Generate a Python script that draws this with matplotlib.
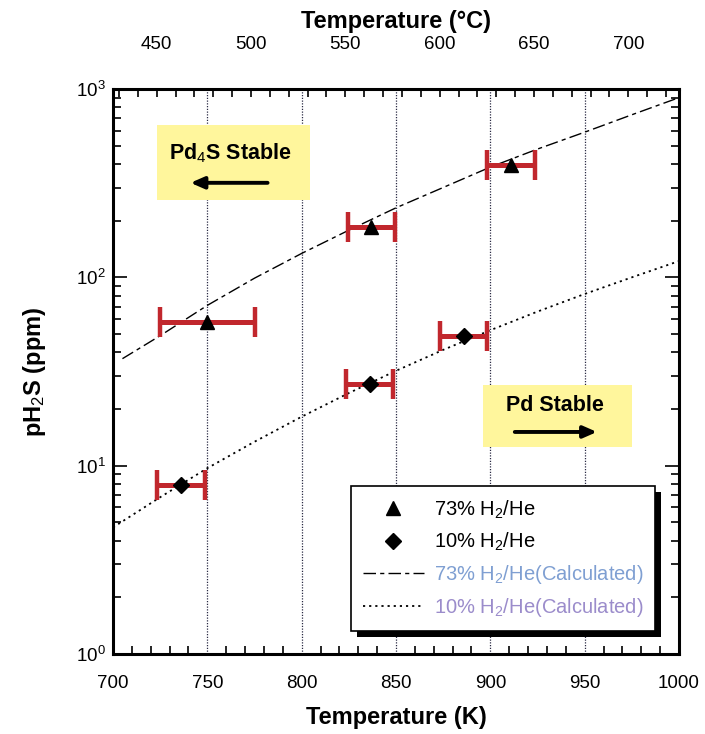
import matplotlib
matplotlib.use("Agg")
import matplotlib.pyplot as plt
import matplotlib.ticker as ticker
from matplotlib.patches import Rectangle

plt.rcParams['font.family'] = ['Liberation Sans', 'DejaVu Sans']
plt.rcParams['mathtext.fontset'] = 'custom'
plt.rcParams['mathtext.rm'] = 'Liberation Sans'
plt.rcParams['mathtext.it'] = 'Liberation Sans:italic'
plt.rcParams['mathtext.bf'] = 'Liberation Sans:bold'

# === measured points ===
t73 = [750, 837, 911]
p73 = [58, 184, 395]
t73_err = [25, 12.5, 12.5]

t10 = [736, 836, 886]
p10 = [7.9, 27, 49]
t10_err = [12.5, 12.5, 12.5]

# === calculated curves ===
tcalc73 = [705, 725, 750, 775, 800, 825, 850, 875, 900, 925, 950, 975, 1000]
pcalc73 = [37, 49, 71, 99, 134, 178, 234, 300, 385, 480, 590, 730, 900]
tcalc10 = [700, 725, 750, 775, 800, 825, 850, 875, 900, 925, 950, 975, 1000]
pcalc10 = [4.7, 6.8, 9.7, 13.4, 18.2, 24.3, 31.9, 41.2, 52.4, 65.8, 81.6, 100, 122]

grid_k = [750, 800, 850, 900, 950]
celsius_ticks = [450, 500, 550, 600, 650, 700]

fig = plt.figure(figsize=(7.05, 7.34), dpi=100)
ax = fig.add_axes([0.1603, 0.109, 0.8028, 0.7697])

for g in grid_k:
    ax.axvline(g, color='#2a2a44', linestyle=(0, (1, 1.2)), linewidth=0.9, zorder=1)

line73, = ax.plot(tcalc73, pcalc73, color='black', linewidth=1.0,
                  dashes=(9, 3, 3, 3), zorder=2)
line10, = ax.plot(tcalc10, pcalc10, color='black', linewidth=1.3,
                  dashes=(1.2, 2.2), zorder=2)

red = '#c1272d'
ax.errorbar(t73, p73, xerr=t73_err, fmt='none', ecolor=red, elinewidth=3.6,
            capsize=10.5, capthick=3.2, zorder=3)
ax.errorbar(t10, p10, xerr=t10_err, fmt='none', ecolor=red, elinewidth=3.6,
            capsize=10.5, capthick=3.2, zorder=3)
tri, = ax.plot(t73, p73, linestyle='none', marker='^', color='black',
               markersize=10, zorder=4)
dia, = ax.plot(t10, p10, linestyle='none', marker='D', color='black',
               markersize=8.5, zorder=4)

ax.set_yscale('log')
ax.set_xlim(700, 1000)
ax.set_ylim(1, 1000)

ax.xaxis.set_major_locator(ticker.MultipleLocator(50))
ax.xaxis.set_minor_locator(ticker.MultipleLocator(10))
ax.yaxis.set_major_locator(ticker.LogLocator(base=10))
ax.yaxis.set_minor_locator(ticker.LogLocator(base=10, subs=range(2, 10)))
ax.yaxis.set_minor_formatter(ticker.NullFormatter())
ax.tick_params(axis='both', which='both', direction='in', width=1.2,
               labelsize=13.5, colors='black')
ax.tick_params(axis='x', which='major', length=0, pad=15)
ax.tick_params(axis='x', which='minor', length=6)
ax.tick_params(axis='y', which='major', length=10, right=True, pad=5)
ax.tick_params(axis='y', which='minor', length=6, right=True)
for s in ax.spines.values():
    s.set_linewidth(2.2)

# === top Celsius axis ===
sec = ax.secondary_xaxis('top', functions=(lambda k: k - 273.15, lambda c: c + 273.15))
sec.xaxis.set_major_locator(ticker.FixedLocator(celsius_ticks))
sec.xaxis.set_minor_locator(ticker.MultipleLocator(10))
sec.tick_params(axis='x', which='both', direction='in', width=1.2, labelsize=13.5)
sec.tick_params(axis='x', which='major', length=6, pad=26)
sec.tick_params(axis='x', which='minor', length=6)
sec.set_xlabel('Temperature (°C)', fontsize=17, fontweight='bold', labelpad=6)

ax.set_xlabel('Temperature (K)', fontsize=17, fontweight='bold', labelpad=10)
ax.set_ylabel('pH$_2$S (ppm)', fontsize=17, fontweight='bold', labelpad=20)

# === annotation boxes ===
yellow = '#fff69c'
ax.add_patch(Rectangle((0.078, 0.804), 0.27, 0.132, transform=ax.transAxes,
                       facecolor=yellow, edgecolor='none', zorder=2.5))
ax.text(0.207, 0.886, 'Pd$_4$S Stable', transform=ax.transAxes, ha='center',
        va='center', fontsize=15.5, fontweight='bold', zorder=5)
ax.annotate('', xy=(0.132, 0.834), xytext=(0.278, 0.834), xycoords='axes fraction',
            arrowprops=dict(arrowstyle='-|>,head_length=0.8,head_width=0.35',
                            color='black', lw=2.8), zorder=5)

ax.add_patch(Rectangle((0.654, 0.366), 0.263, 0.11, transform=ax.transAxes,
                       facecolor=yellow, edgecolor='none', zorder=2.5))
ax.text(0.781, 0.440, 'Pd Stable', transform=ax.transAxes, ha='center',
        va='center', fontsize=15.5, fontweight='bold', zorder=5)
ax.annotate('', xy=(0.860, 0.393), xytext=(0.705, 0.393), xycoords='axes fraction',
            arrowprops=dict(arrowstyle='-|>,head_length=0.8,head_width=0.35',
                            color='black', lw=2.8), zorder=5)

# === legend ===
leg = ax.legend([tri, dia, line73, line10],
                ['73% H$_2$/He', '10% H$_2$/He',
                 '73% H$_2$/He(Calculated)', '10% H$_2$/He(Calculated)'],
                loc='lower right', bbox_to_anchor=(0.958, 0.04),
                fontsize=14.5, frameon=True, fancybox=False, edgecolor='black',
                framealpha=1, handlelength=3.0, handletextpad=0.5,
                labelspacing=0.5, borderpad=0.6, borderaxespad=0)
leg.get_frame().set_linewidth(1.2)
leg.set_zorder(6)
text_colors = ['black', 'black', '#7f9fd2', '#9b8ccb']
for t, c in zip(leg.get_texts(), text_colors):
    t.set_color(c)

# thick black drop shadow behind the legend
fig.canvas.draw()
bb = leg.get_frame().get_window_extent()
ax.add_patch(Rectangle((bb.x0 + 6, bb.y0 - 6), bb.width, bb.height, transform=None,
                       facecolor='black', edgecolor='none', zorder=5.5, clip_on=False))

fig.savefig('out.png', dpi=100)
